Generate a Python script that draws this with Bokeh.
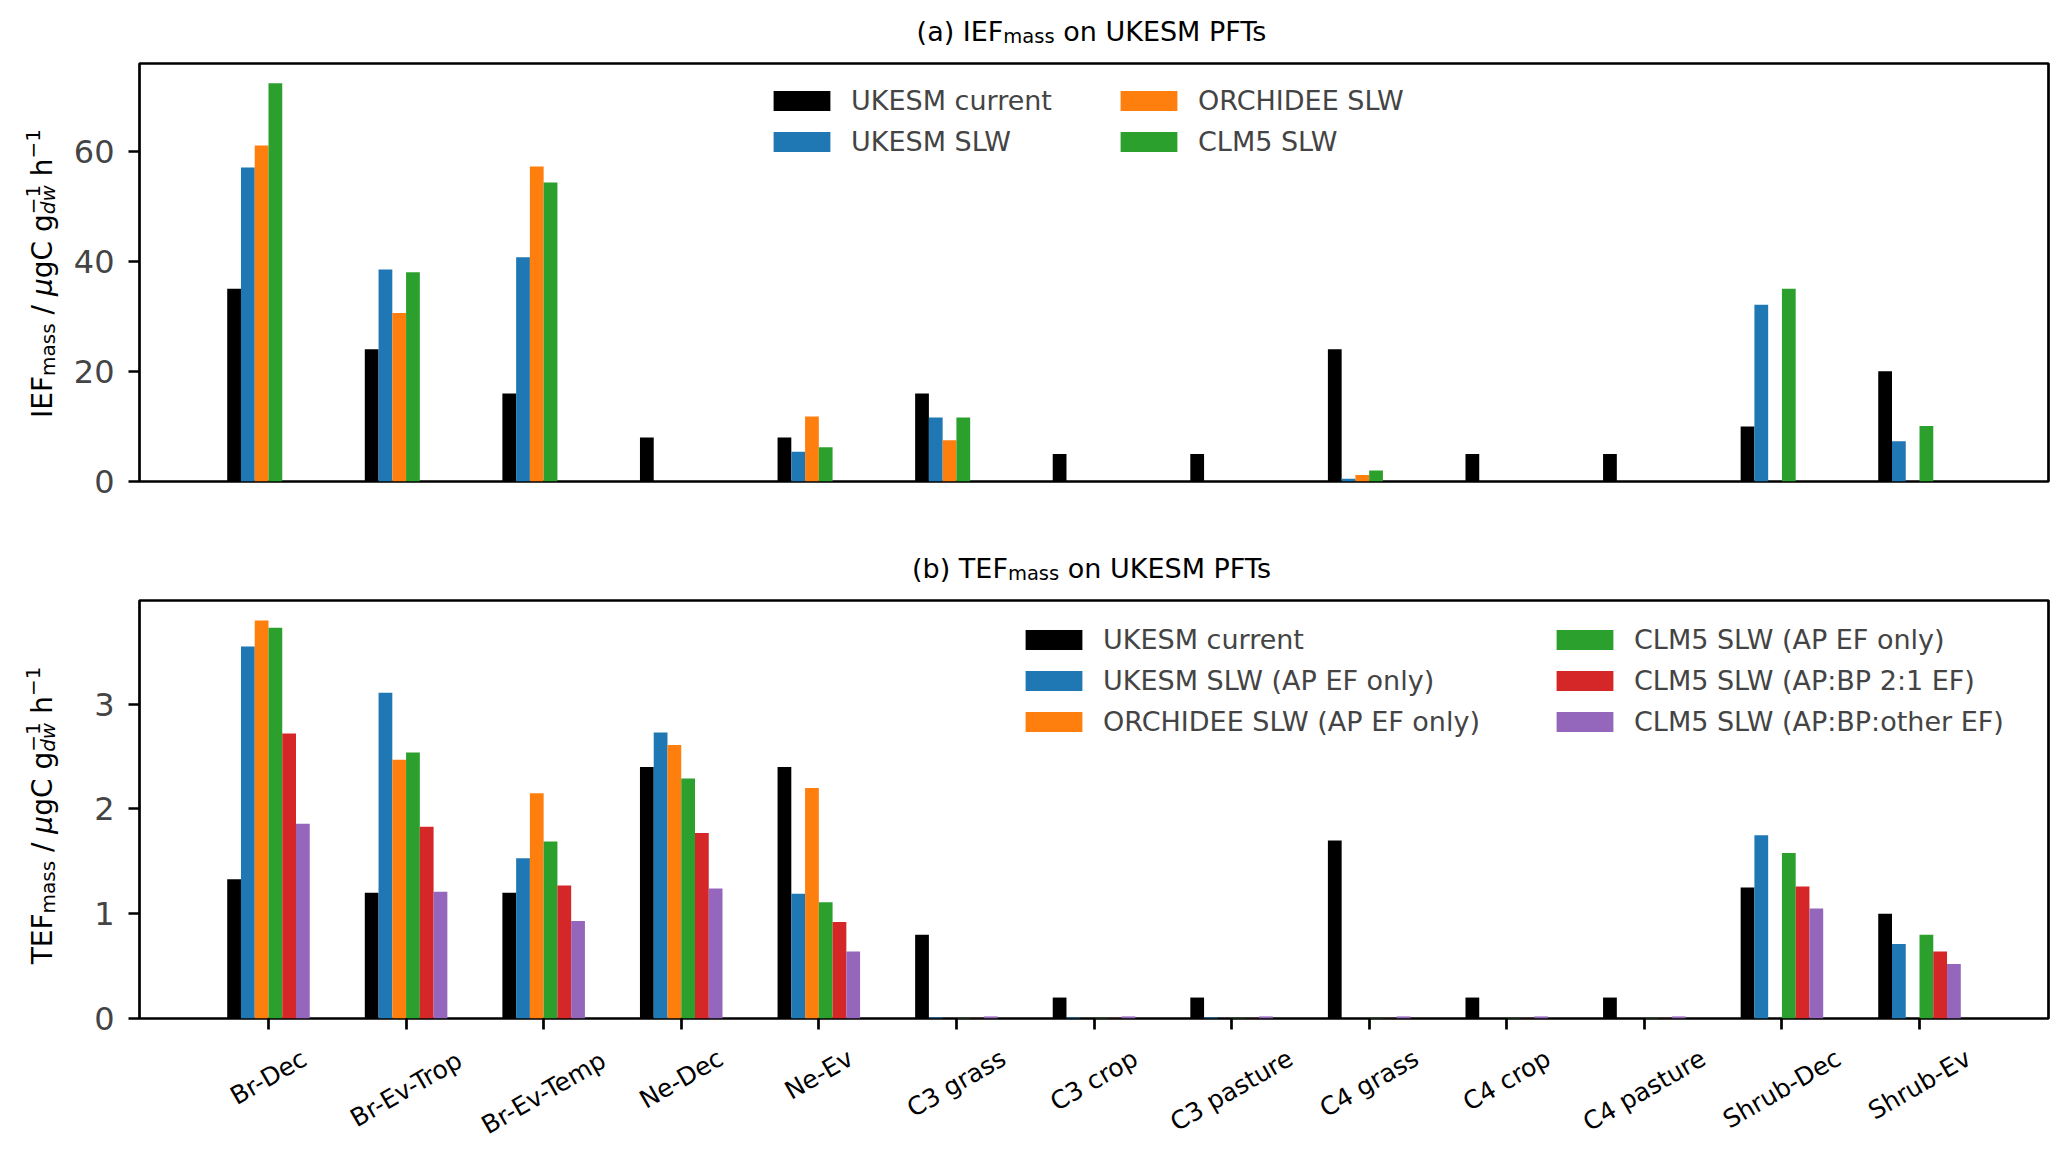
import math

from bokeh.core.properties import value
from bokeh.embed import file_html
from bokeh.layouts import column, row
from bokeh.models import (ColumnDataSource, CustomJSTickFormatter, FixedTicker, Legend,
                          LegendItem, Range1d)
from bokeh.plotting import figure
from bokeh.resources import INLINE
from bokeh.transform import dodge

pfts = ["Br-Dec", "Br-Ev-Trop", "Br-Ev-Temp", "Ne-Dec", "Ne-Ev", "C3 grass", "C3 crop",
        "C3 pasture", "C4 grass", "C4 crop", "C4 pasture", "Shrub-Dec", "Shrub-Ev"]

# (a) IEF_mass  [ugC g-1 h-1]
ief_ukesm_current = [35, 24, 16, 8, 8, 16, 5, 5, 24, 5, 5, 10, 20]
ief_ukesm_slw = [57, 38.5, 40.7, 0, 5.4, 11.6, 0, 0, 0.5, 0, 0, 32.1, 7.3]
ief_orchidee_slw = [61, 30.6, 57.2, 0, 11.8, 7.5, 0, 0, 1.2, 0, 0, 0, 0]
ief_clm5_slw = [72.3, 38.0, 54.3, 0, 6.2, 11.6, 0, 0, 2.0, 0, 0, 35.0, 10.1]

# (b) TEF_mass  [ugC g-1 h-1]
tef_ukesm_current = [1.33, 1.2, 1.2, 2.4, 2.4, 0.8, 0.2, 0.2, 1.7, 0.2, 0.2, 1.25, 1.0]
tef_ukesm_slw = [3.55, 3.11, 1.53, 2.73, 1.19, 0.01, 0.01, 0.01, 0, 0, 0, 1.75, 0.71]
tef_orchidee_slw = [3.80, 2.47, 2.15, 2.61, 2.20, 0, 0, 0, 0, 0, 0, 0, 0]
tef_clm5_ap = [3.73, 2.54, 1.69, 2.29, 1.11, 0.005, 0.005, 0.005, 0.005, 0.005, 0.005, 1.58, 0.80]
tef_clm5_apbp = [2.72, 1.83, 1.27, 1.77, 0.92, 0.003, 0.003, 0.003, 0.003, 0.003, 0.003, 1.26, 0.64]
tef_clm5_other = [1.86, 1.21, 0.93, 1.24, 0.64, 0.02, 0.02, 0.02, 0.02, 0.02, 0.02, 1.05, 0.52]

labels_a = ["UKESM current", "UKESM SLW", "ORCHIDEE SLW", "CLM5 SLW"]
labels_b = ["UKESM current", "UKESM SLW (AP EF only)", "ORCHIDEE SLW (AP EF only)",
            "CLM5 SLW (AP EF only)", "CLM5 SLW (AP:BP 2:1 EF)", "CLM5 SLW (AP:BP:other EF)"]

FONT = "DejaVu Sans"
NB = "\u00a0"   # svg drops plain leading spaces
COLORS = ["black", "#1f77b4", "#ff7f0e", "#2ca02c", "#d62728", "#9467bd"]
OFFSETS = [-0.25, -0.15, -0.05, 0.05, 0.15, 0.25]

LEFT = 139      # space left of the axes box
YLAB_W = 60     # strip holding the y axis titles
FRAME_W, FRAME_H = 1909, 418
TITLE_H = 55
P1_BOTTOM, P2_BOTTOM = 56, 24
PAGE_H = 1145

# page rows: title a | panel a | title b | panel b | category labels
ROW1_H = 8 + FRAME_H + P1_BOTTOM
T2_TOP = TITLE_H + ROW1_H
P2_TOP = T2_TOP + TITLE_H + 8
XL_H = PAGE_H - (T2_TOP + TITLE_H + 8 + FRAME_H + P2_BOTTOM)

# rough DejaVu Sans advance widths (em), used to lay out the composed texts
EM = {'B': 0.686, 'r': 0.411, '-': 0.361, 'D': 0.770, 'e': 0.615, 'c': 0.550, 'E': 0.632,
      'v': 0.592, 'T': 0.611, 'o': 0.612, 'p': 0.635, 'm': 0.974, 'N': 0.748, 'C': 0.698,
      '3': 0.636, '4': 0.636, ' ': 0.318, NB: 0.318, 'g': 0.635, 'a': 0.613, 's': 0.521,
      'u': 0.634, 't': 0.392, 'S': 0.635, 'h': 0.634, 'b': 0.635, 'I': 0.295, 'F': 0.575,
      '/': 0.337, 'μ': 0.636, '−': 0.838, '1': 0.636, 'd': 0.635, 'w': 0.818, '(': 0.390,
      ')': 0.390, 'U': 0.732, 'K': 0.656, 'M': 0.863, 'P': 0.603, 'n': 0.634}


def text_width(s, size):
    return sum(EM.get(ch, 0.6) for ch in s) * size


def blank_figure(fw, fh, xr, yr, left=0, right=0, top=0, bottom=0):
    f = figure(frame_width=fw, frame_height=fh, x_range=xr, y_range=yr,
               toolbar_location=None, output_backend="svg", min_border_left=left,
               min_border_right=right, min_border_top=top, min_border_bottom=bottom,
               outline_line_color=None, x_axis_location=None, y_axis_location=None)
    f.xgrid.visible = False
    f.ygrid.visible = False
    return f


def draw_pieces(f, xs, ys, texts, sizes, styles, angle):
    src = ColumnDataSource(dict(x=xs, y=ys, text=texts, size=sizes, style=styles))
    f.text(x="x", y="y", text="text", source=src, angle=angle, text_align="left",
           text_baseline="alphabetic", text_font=value(FONT), text_font_size="size",
           text_font_style="style", text_color="black")


def title_strip(prefix, name, top):
    # "(a) IEF_mass on UKESM PFTs" with a real subscript; data units = page pixels
    f = blank_figure(FRAME_W, TITLE_H, Range1d(LEFT, LEFT + FRAME_W),
                     Range1d(-(top + TITLE_H), -top), left=LEFT, right=3)
    pieces = [(prefix + " " + name, 27, 0), ("mass", 19.5, 5), (NB + "on UKESM PFTs", 27, 0)]
    baseline = top + TITLE_H - 24.5
    cur = LEFT + FRAME_W / 2 - sum(text_width(t, s) for t, s, _ in pieces) / 2
    xs, ys = [], []
    for t, s, shift in pieces:
        xs.append(cur)
        ys.append(-(baseline + shift))
        cur += text_width(t, s)
    draw_pieces(f, xs, ys, [p[0] for p in pieces], ["%spx" % p[1] for p in pieces],
                ["normal"] * 3, 0)
    return f


def ylabel_strip(name, frame_top, bottom, center):
    # "<name>_mass / μgC g_dw^-1 h^-1" built from pieces; data y = -(page pixel)
    f = blank_figure(YLAB_W, FRAME_H, Range1d(0, YLAB_W),
                     Range1d(-(frame_top + FRAME_H), -frame_top), top=8, bottom=bottom)
    base = 42
    # text, size, baseline shift, style, advances
    pieces = [(name, 28, 0, "normal", True),
              ("mass", 20, 5, "normal", True),
              (NB + "/" + NB, 28, 0, "normal", True),
              ("μ", 28, 0, "italic", True),
              ("gC g", 28, 0, "normal", True),
              ("−1", 20, -10, "normal", False),
              ("dw", 20, 5.5, "italic", True),
              (NB + "h", 28, 0, "normal", True),
              ("−1", 20, -10, "normal", True)]
    total = sum(text_width(t, s) for t, s, _, _, adv in pieces if adv)
    cur = -(center + total / 2)
    xs, ys = [], []
    for t, s, shift, style, adv in pieces:
        xs.append(base + shift)
        ys.append(cur)
        if adv:
            cur += text_width(t, s)
    draw_pieces(f, xs, ys, [p[0] for p in pieces], ["%dpx" % p[1] for p in pieces],
                [p[3] for p in pieces], math.pi / 2)
    return f


def make_panel(ymax, yticks, border_bottom):
    p = figure(frame_width=FRAME_W, frame_height=FRAME_H, x_range=Range1d(-0.9375, 12.9375),
               y_range=Range1d(0, ymax), toolbar_location=None, output_backend="svg",
               min_border_left=LEFT - YLAB_W, min_border_right=3, min_border_top=8,
               min_border_bottom=border_bottom)
    p.outline_line_color = "black"
    p.outline_line_width = 2.7
    p.outline_line_alpha = 1
    p.xgrid.grid_line_color = None
    p.ygrid.grid_line_color = None

    p.yaxis.ticker = FixedTicker(ticks=yticks)
    p.yaxis.axis_line_color = None
    p.yaxis.major_tick_in = 0
    p.yaxis.major_tick_out = 11
    p.yaxis.major_tick_line_width = 2.7
    p.yaxis.minor_tick_line_color = None
    p.yaxis.major_label_text_font = FONT
    p.yaxis.major_label_text_font_size = "32px"
    p.yaxis.major_label_standoff = 14
    return p


def add_legend(p, items, x, y):
    leg = Legend(items=items, location=(x, y), orientation="vertical",
                 glyph_width=71, glyph_height=25, label_standoff=14, spacing=10,
                 padding=0, margin=0, border_line_color=None, background_fill_alpha=0,
                 label_text_font=FONT, label_text_font_size="27px")
    p.add_layout(leg, "center")


# ---- (a) IEF
t1 = title_strip("(a)", "IEF", 0)
p1 = make_panel(75.9, [0, 20, 40, 60], P1_BOTTOM)
p1.xaxis.visible = False
src_a = ColumnDataSource(dict(x=list(range(len(pfts))), s0=ief_ukesm_current, s1=ief_ukesm_slw,
                              s2=ief_orchidee_slw, s3=ief_clm5_slw))
rs_a = []
for i in range(4):
    rs_a.append(p1.vbar(x=dodge("x", OFFSETS[i]), top="s%d" % i, width=0.1, source=src_a,
                        fill_color=COLORS[i], line_color=None))
items_a = [LegendItem(label=labels_a[i], renderers=[rs_a[i]]) for i in range(4)]
add_legend(p1, items_a[:2], 627, 324)
add_legend(p1, items_a[2:], 974, 324)
y1 = ylabel_strip("IEF", TITLE_H + 8, P1_BOTTOM, 273)

# ---- (b) TEF
t2 = title_strip("(b)", "TEF", T2_TOP)
p2 = make_panel(3.99, [0, 1, 2, 3], P2_BOTTOM)
p2.xaxis.ticker = FixedTicker(ticks=list(range(len(pfts))))
p2.xaxis.axis_line_color = None
p2.xaxis.major_tick_in = 0
p2.xaxis.major_tick_out = 11
p2.xaxis.major_tick_line_width = 2.7
p2.xaxis.minor_tick_line_color = None
p2.xaxis.major_label_text_font_size = "2px"
p2.xaxis.formatter = CustomJSTickFormatter(code="return ''")

src_b = ColumnDataSource(dict(x=list(range(len(pfts))), s0=tef_ukesm_current, s1=tef_ukesm_slw,
                              s2=tef_orchidee_slw, s3=tef_clm5_ap, s4=tef_clm5_apbp,
                              s5=tef_clm5_other))
rs_b = []
for i in range(6):
    rs_b.append(p2.vbar(x=dodge("x", OFFSETS[i]), top="s%d" % i, width=0.1, source=src_b,
                        fill_color=COLORS[i], line_color=None))
items_b = [LegendItem(label=labels_b[i], renderers=[rs_b[i]]) for i in range(6)]
add_legend(p2, items_b[:3], 879, 281)
add_legend(p2, items_b[3:], 1410, 281)
y2 = ylabel_strip("TEF", P2_TOP, P2_BOTTOM, P2_TOP + FRAME_H / 2 + 6)

# ---- rotated category labels, centred under the ticks (matplotlib style)
fs = 25
xl = blank_figure(FRAME_W, XL_H, p2.x_range, Range1d(0, XL_H), left=LEFT, right=3)
label_y = [XL_H - 1 - (text_width(t, fs) * 0.5 + 1.164 * fs * math.sqrt(3) / 2) / 2 for t in pfts]
lab_src = ColumnDataSource(dict(x=list(range(len(pfts))), y=label_y, text=pfts))
xl.text(x="x", y="y", text="text", source=lab_src, angle=math.pi / 6, text_align="center",
        text_baseline="middle", text_font=value(FONT), text_font_size=value("%dpx" % fs),
        text_color="black")

layout = column(t1, row(y1, p1), t2, row(y2, p2), xl)
open("out.html", "w").write(file_html(layout, INLINE))
